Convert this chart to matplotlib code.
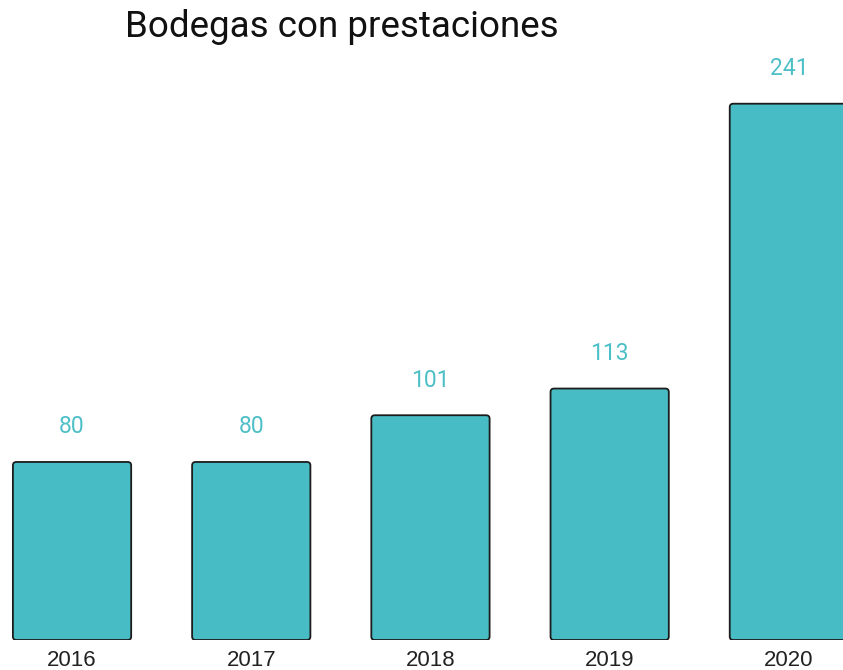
import matplotlib.pyplot as plt
from matplotlib.patches import FancyBboxPatch

# Data
years = ['2016', '2017', '2018', '2019', '2020']
bodegas = [80, 80, 101, 113, 241]

teal = '#47bcc5'
label_teal = '#4dbfc7'

fig = plt.figure(figsize=(8.43, 6.70), dpi=100)
ax = fig.add_axes([0, 30 / 670, 1, 640 / 670])

x = list(range(len(years)))
width = 0.66
bars = ax.bar(x, bodegas, width=width, color='none', edgecolor='none')

ax.set_xlim(-0.402, 4.302)
ax.set_ylim(0, 287.6)

# rounded bars drawn over the bar positions
px_x = 843 / (4.302 + 0.402)
px_y = 640 / 287.6
for bar, val in zip(bars, bodegas):
    patch = FancyBboxPatch((bar.get_x(), bar.get_y()), bar.get_width(), bar.get_height(),
                           boxstyle=f"round,pad=0,rounding_size={3.5 / px_x}",
                           mutation_aspect=px_x / px_y,
                           facecolor=teal, edgecolor='#1c1c1c', linewidth=1.3)
    ax.add_patch(patch)
    ax.text(bar.get_x() + bar.get_width() / 2, val + 35 / px_y, str(val),
            ha='center', va='center', color=label_teal, fontsize=16.5, family='Roboto')

ax.set_xticks(x)
ax.set_xticklabels(years, fontsize=16, color='#222222', family='Liberation Sans')
ax.tick_params(axis='x', length=0, pad=7)
ax.set_yticks([])
for s in ax.spines.values():
    s.set_visible(False)

fig.text(125 / 843, 1 - 27 / 670, 'Bodegas con prestaciones', ha='left', va='center',
         fontsize=26.5, family='Roboto', color='#111111')

plt.savefig('out.png', dpi=100)
plt.close()
